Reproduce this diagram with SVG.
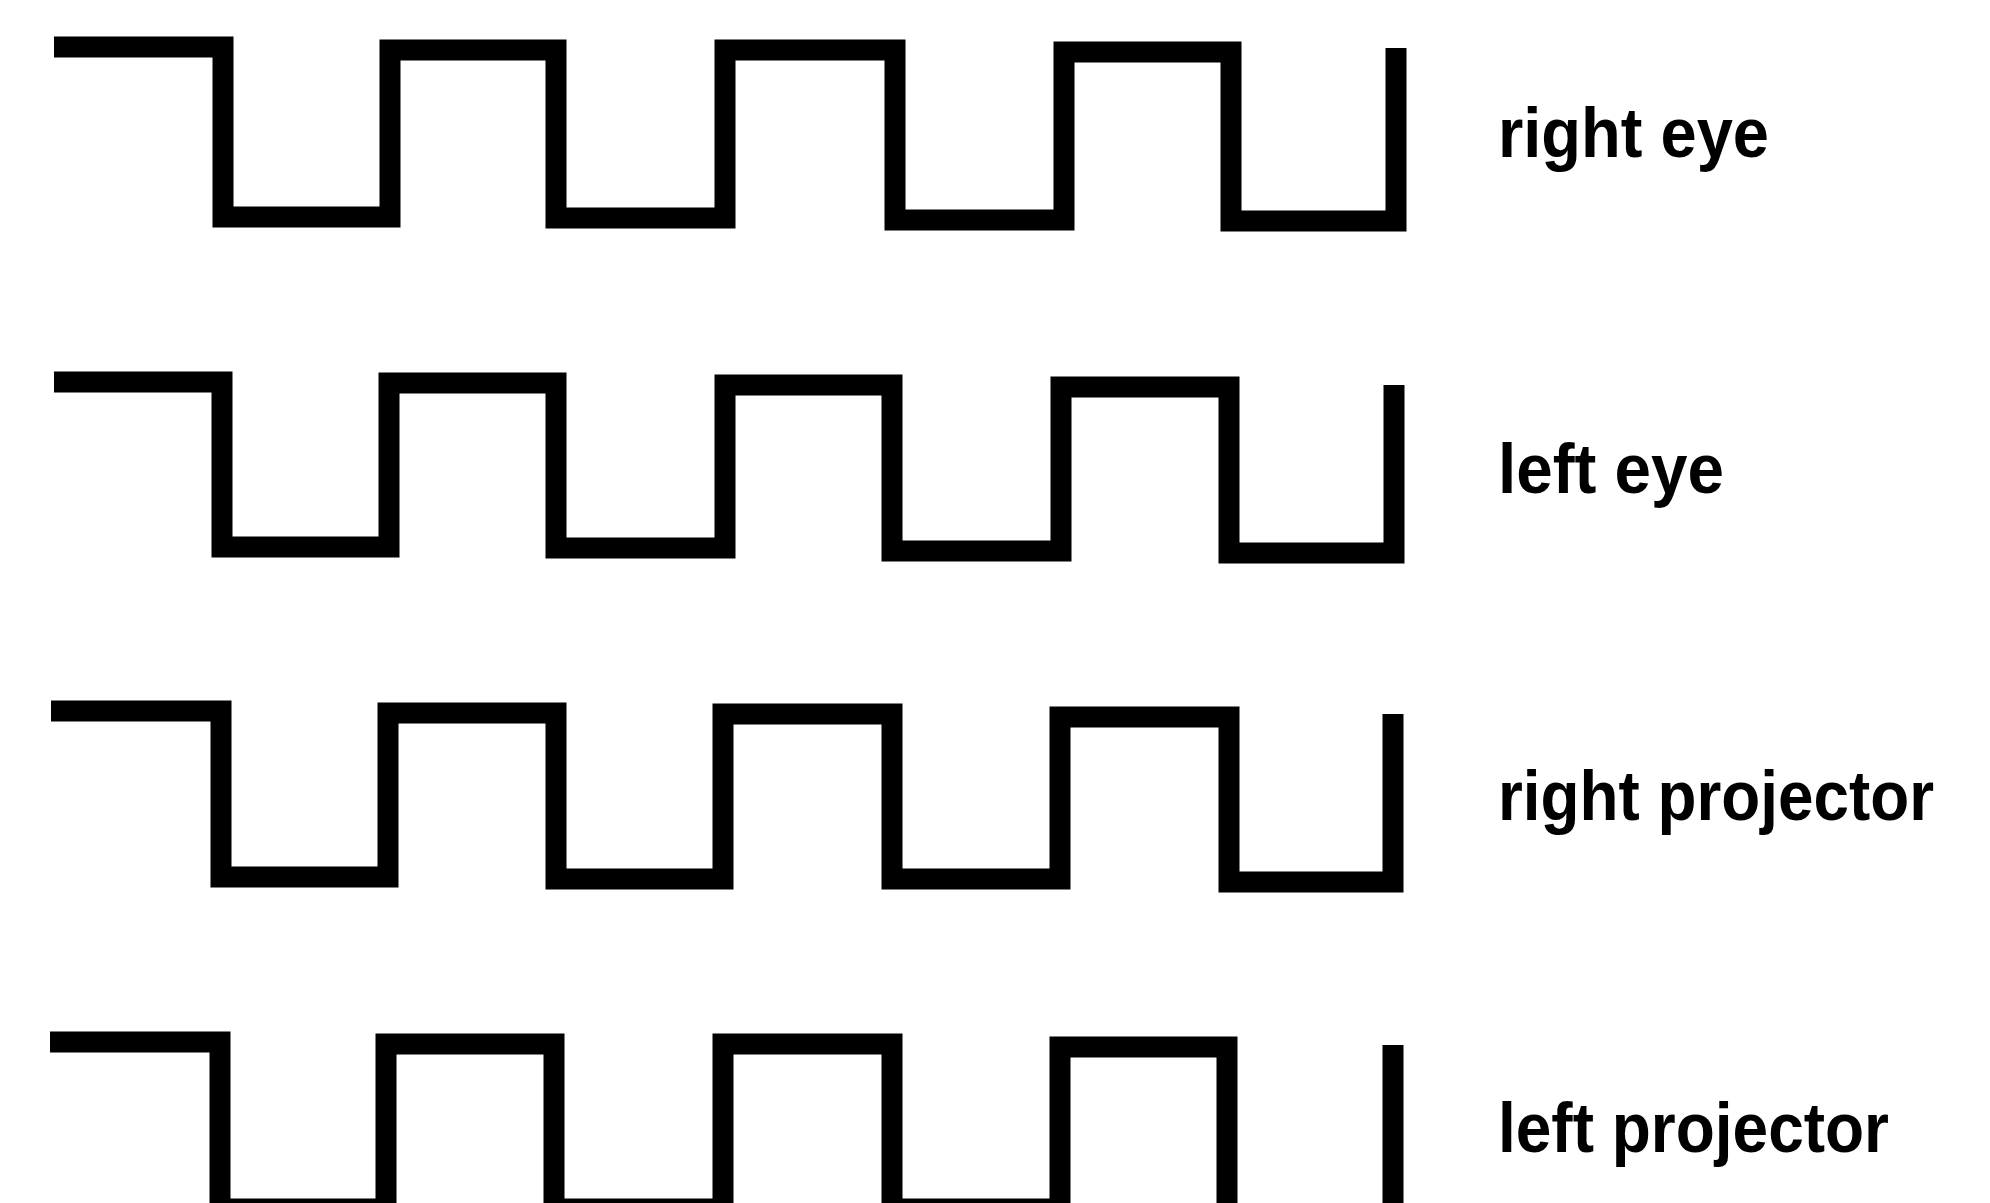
<svg xmlns="http://www.w3.org/2000/svg" width="1990" height="1203" viewBox="0 0 1990 1203">
  <style>
    .wave { fill: none; stroke: #000; stroke-width: 21; stroke-linejoin: miter; stroke-linecap: butt; }
    .label { font-family: "Liberation Sans", Arial, sans-serif; font-weight: bold; font-size: 71px; fill: #000; }
  </style>
  <rect width="1990" height="1203" fill="#fff"/>
  <g id="right-eye">
    <path class="wave" d="M54,47 H223 V217 H390 V50 H556 V218 H725 V50 H895 V220 H1064 V52 H1231 V221 H1396 V48"/>
    <text class="label" x="1498" y="157" textLength="271" lengthAdjust="spacingAndGlyphs">right eye</text>
  </g>
  <g id="left-eye">
    <path class="wave" d="M54,382 H222 V547 H389 V383 H556 V548 H725 V385 H892 V551 H1061 V387 H1229 V553 H1394 V385"/>
    <text class="label" x="1498" y="493" textLength="226" lengthAdjust="spacingAndGlyphs">left eye</text>
  </g>
  <g id="right-projector">
    <path class="wave" d="M51,711 H221 V877 H388 V713 H556 V879 H723 V714 H892 V879 H1060 V717 H1229 V882 H1393 V714"/>
    <text class="label" x="1498" y="820" textLength="436" lengthAdjust="spacingAndGlyphs">right projector</text>
  </g>
  <g id="left-projector">
    <path class="wave" d="M50,1042 H220 V1209 H386 V1044 H554 V1209 H723 V1044 H892 V1209 H1060 V1047 H1227 V1215 H1393 V1045"/>
    <text class="label" x="1498" y="1152" textLength="391" lengthAdjust="spacingAndGlyphs">left projector</text>
  </g>
  <g id="connectors"/>
</svg>
